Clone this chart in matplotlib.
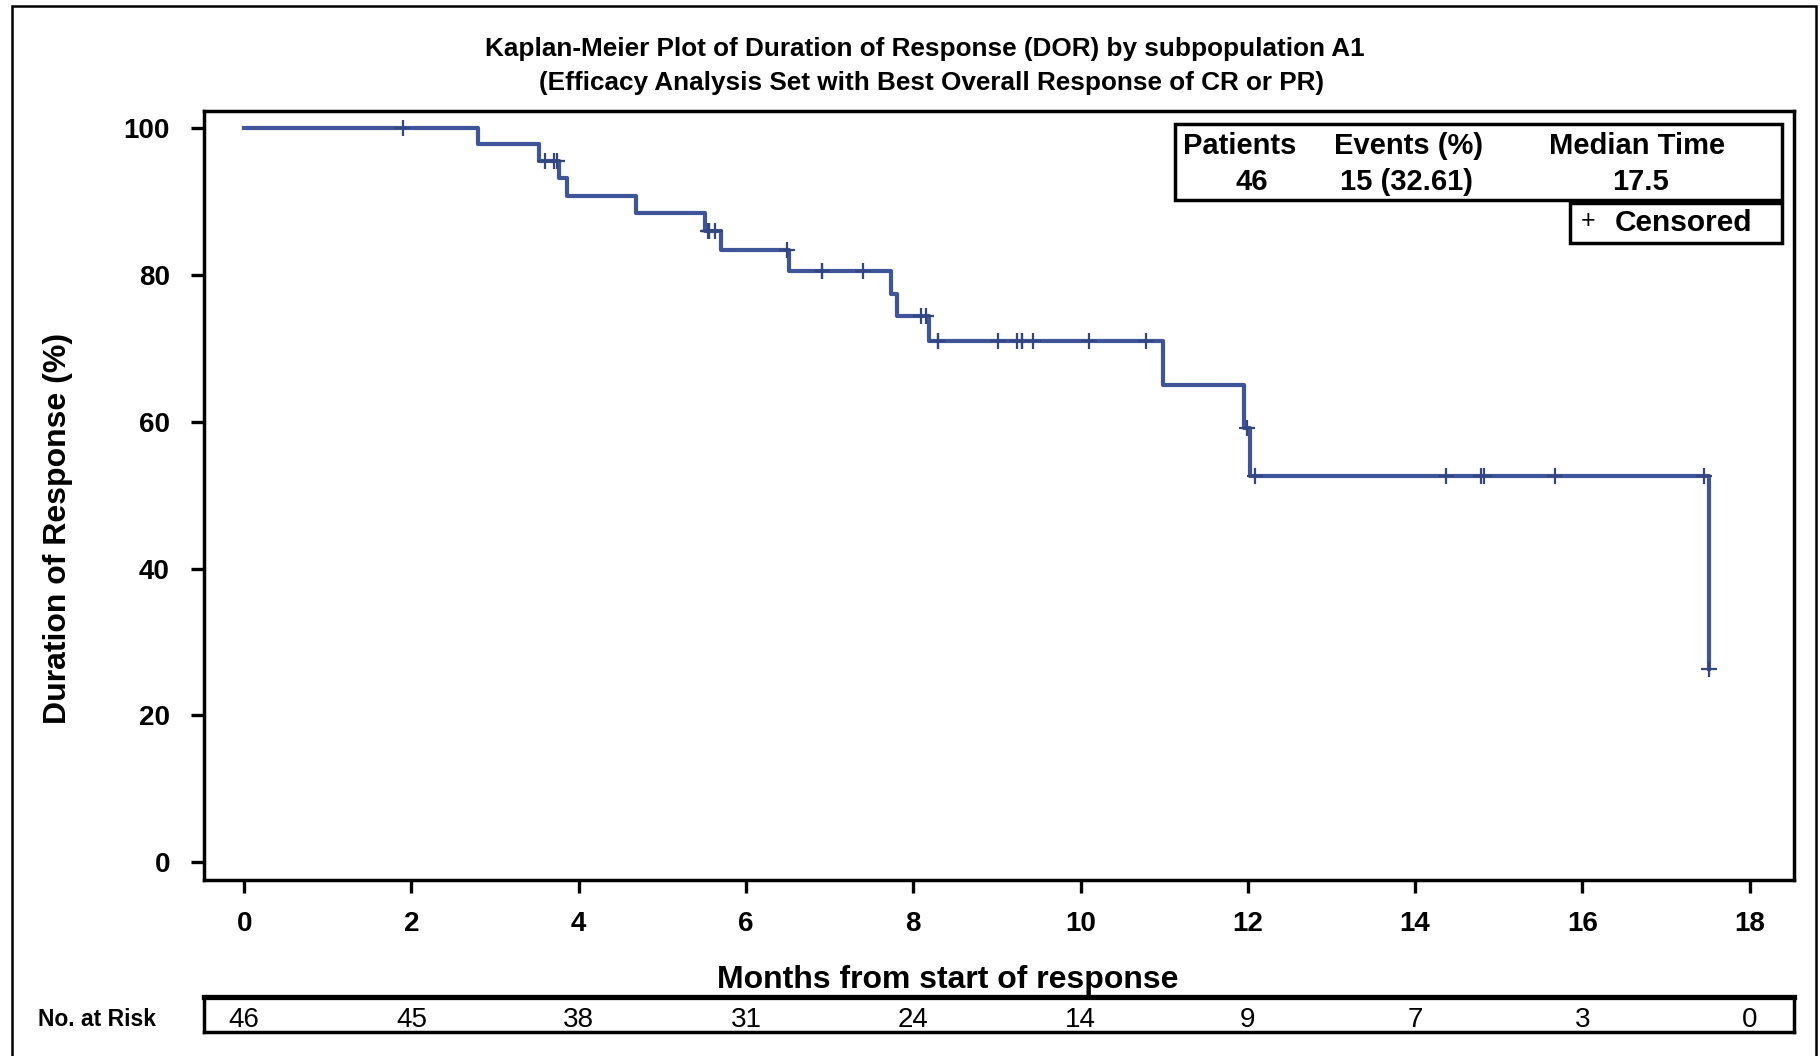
import numpy as np
import matplotlib
matplotlib.use("Agg")
import matplotlib.pyplot as plt
from matplotlib.patches import Rectangle

plt.rcParams['font.family'] = ['Liberation Sans', 'DejaVu Sans']

# ---------------- data ----------------
event_times = [2.79, 3.52, 3.76, 3.86, 4.68, 5.51, 5.70, 6.51, 7.73, 7.80,
               8.19, 10.98, 11.96, 12.02, 17.51]
censor_times = [1.90, 3.60, 3.71, 3.74, 5.54, 5.56, 5.56, 5.63, 6.49, 6.91,
                6.91, 7.40, 8.09, 8.15, 8.29, 8.30, 9.01, 9.24, 9.30, 9.30,
                9.43, 10.10, 10.78, 11.99, 12.09, 14.37, 14.79, 14.82, 15.67,
                17.45, 17.51]
risk_times = [0, 2, 4, 6, 8, 10, 12, 14, 16, 18]
risk_counts = [46, 45, 38, 31, 24, 14, 9, 7, 3, 0]
x_ticks = [0, 2, 4, 6, 8, 10, 12, 14, 16, 18]
y_ticks = [0, 20, 40, 60, 80, 100]
legend_headers = ["Patients", "Events (%)", "Median Time"]
legend_values = ["46", "15 (32.61)", "17.5"]
title_lines = ["Kaplan-Meier Plot of Duration of Response (DOR) by subpopulation A1",
               "(Efficacy Analysis Set with Best Overall Response of CR or PR)"]

# ---------------- Kaplan-Meier estimate ----------------
obs = sorted([(t, 1) for t in event_times] + [(t, 0) for t in censor_times],
             key=lambda a: (a[0], -a[1]))
n_risk = len(obs)
S = 1.0
step_x = [0.0]
step_y = [100.0]
cens_x, cens_y = [], []
for t, e in obs:
    if e == 1:
        S *= (n_risk - 1) / n_risk
        step_x.append(t)
        step_y.append(S * 100)
    else:
        cens_x.append(t)
        cens_y.append(S * 100)
    n_risk -= 1
step_x.append(max(event_times + censor_times))
step_y.append(S * 100)

# ---------------- figure ----------------
W, H = 1820, 1056
fig = plt.figure(figsize=(W / 100, H / 100), dpi=100)

def fx(px):
    return px / W

def fy(py):
    return 1 - py / H

line_color = '#3f5599'

ax = fig.add_axes([fx(204), fy(880), fx(1794) - fx(204), fy(111) - fy(880)])
ax.step(step_x, step_y, where='post', color=line_color, lw=3.0, zorder=3)
ax.plot(cens_x, cens_y, ls='none', marker='+', ms=11, mew=1.6,
        color='#34467f', zorder=4)
ax.set_xlim(-0.48, 18.53)
ax.set_ylim(-2.4, 102.3)
ax.set_xticks(x_ticks)
ax.set_yticks(y_ticks)
ax.tick_params(axis='both', which='major', direction='out', width=2.4,
               length=9.5, labelsize=20)
ax.tick_params(axis='x', pad=13)
ax.tick_params(axis='y', pad=15)
for lab in ax.get_xticklabels() + ax.get_yticklabels():
    lab.set_fontweight('bold')
for sp in ax.spines.values():
    sp.set_linewidth(2.5)

fig.text(fx(58), fy(528), "Duration of Response (%)", rotation=90,
         ha='center', va='center', fontsize=23, fontweight='bold')
fig.text(fx(948), fy(980), "Months from start of response", ha='center',
         va='center', fontsize=23, fontweight='bold')

# titles
fig.text(fx(925), fy(49), title_lines[0], ha='center', va='center',
         fontsize=18.8, fontweight='bold')
fig.text(fx(932), fy(83), title_lines[1], ha='center', va='center',
         fontsize=18.8, fontweight='bold')

# legend boxes
fig.patches.append(Rectangle((fx(1175), fy(200)), fx(1782) - fx(1175),
                             fy(124) - fy(200), transform=fig.transFigure,
                             fill=False, lw=2.5, ec='black'))
fig.patches.append(Rectangle((fx(1570), fy(243)), fx(1782) - fx(1570),
                             fy(203) - fy(243), transform=fig.transFigure,
                             fill=False, lw=2.5, ec='black'))
head_x = [1240, 1409, 1637]
val_x = [1252, 1407, 1640]
for hx, vx, h, v in zip(head_x, val_x, legend_headers, legend_values):
    fig.text(fx(hx), fy(146), h, ha='center', va='center', fontsize=21,
             fontweight='bold')
    fig.text(fx(vx), fy(182), v, ha='center', va='center', fontsize=21,
             fontweight='bold')
fig.text(fx(1588), fy(221), "+", ha='center', va='center', fontsize=18)
fig.text(fx(1684), fy(223), "Censored", ha='center', va='center',
         fontsize=21.5, fontweight='bold')

# risk table
rax = fig.add_axes([fx(204), fy(1032), fx(1794) - fx(204), fy(997) - fy(1032)])
rax.set_xlim(ax.get_xlim())
rax.set_ylim(0, 1)
rax.set_xticks([])
rax.set_yticks([])
for sp in rax.spines.values():
    sp.set_linewidth(2.5)
rax.spines['top'].set_linewidth(3.8)
for t, n in zip(risk_times, risk_counts):
    rax.text(t, 0.34, str(n), ha='center', va='center', fontsize=20)
fig.text(fx(97), fy(1019), "No. at Risk", ha='center', va='center',
         fontsize=16.5, fontweight='bold')

# outer frame
fig.patches.append(Rectangle((fx(12), -0.05), fx(1816) - fx(12),
                             fy(6) + 0.05, transform=fig.transFigure,
                             fill=False, lw=1.8, ec='black'))

fig.savefig("out.png", dpi=100)
